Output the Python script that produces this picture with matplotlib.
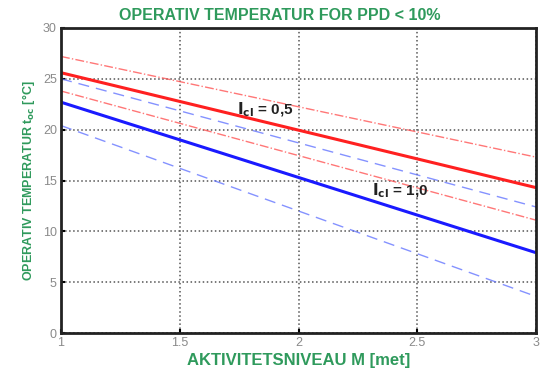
import numpy as np
import matplotlib
matplotlib.use('Agg')
import matplotlib.pyplot as plt

plt.rcParams['font.family'] = ['Liberation Sans', 'DejaVu Sans']

# activity level [met], line end points
met = [1.0, 3.0]
red_solid = [25.6, 14.3]
red_upper = [27.2, 17.3]
red_lower = [23.8, 11.1]
blue_solid = [22.7, 7.9]
blue_upper = [25.0, 12.4]
blue_lower = [20.4, 3.6]

GREEN = '#2f9a5c'
GREY = '#8a8a8a'

(fig, ax) = plt.subplots(figsize=(5.47, 3.68), dpi=100)
fig.subplots_adjust(left=0.1115, right=0.98, bottom=0.095, top=0.924)

ax.plot(met, red_upper, color='#ff5555', lw=1, ls='-.', alpha=0.8)
ax.plot(met, red_lower, color='#ff5555', lw=1, ls='-.', alpha=0.8)
ax.plot(met, blue_upper, color='#6677ff', lw=1, ls=(0, (8, 5)), alpha=0.8)
ax.plot(met, blue_lower, color='#6677ff', lw=1, ls=(0, (8, 5)), alpha=0.8)
ax.plot(met, red_solid, color='#ff2020', lw=2.2)
ax.plot(met, blue_solid, color='#1a1aff', lw=2.2)

ax.text(1.74, 22.0, r'$\mathbf{I_{cl}}$ = 0,5', fontsize=11, fontweight='bold',
        va='center', ha='left', color='#222222')
ax.text(2.31, 14.0, r'$\mathbf{I_{cl}}$ = 1,0', fontsize=11, fontweight='bold',
        va='center', ha='left', color='#222222')

ax.set_xlim(1, 3)
ax.set_ylim(0, 30)
ax.set_xticks([1, 1.5, 2, 2.5, 3])
ax.set_xticklabels(['1', '1.5', '2', '2.5', '3'])
ax.set_yticks(np.arange(0, 31, 5))
ax.grid(True, color='#555555', ls=':', lw=1.1)
ax.tick_params(direction='in', length=3, width=1.5, labelsize=9,
               labelcolor=GREY, pad=3)
for s in ax.spines.values():
    s.set_linewidth(2)
    s.set_color('#222222')

fig.text(0.512, 0.958, 'OPERATIV TEMPERATUR FOR PPD < 10%', color=GREEN,
         fontsize=11.5, fontweight='bold', ha='center', va='center')
ax.set_xlabel('AKTIVITETSNIVEAU M [met]', color=GREEN, fontsize=12,
              fontweight='bold', labelpad=3)
ax.set_ylabel(r'OPERATIV TEMPERATUR t$_{\mathbf{oc}}$ [°C]', color=GREEN,
              fontsize=9, fontweight='bold', labelpad=4)

fig.savefig('out.png', dpi=100)
